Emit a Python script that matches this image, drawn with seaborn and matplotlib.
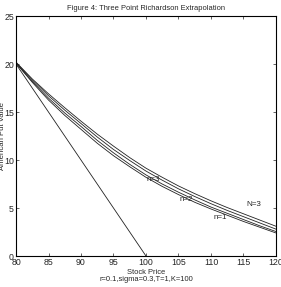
import numpy as np
import pandas as pd
import matplotlib
matplotlib.use("Agg")
import matplotlib.pyplot as plt
import seaborn as sns

# stock prices and estimated put values
stock = [80, 82.5, 85, 87.5, 90, 92.5, 95, 97.5, 100,
         102.5, 105, 107.5, 110, 112.5, 115, 117.5, 120]
put_N3 = [20.2, 18.45, 16.9, 15.45, 14.05, 12.7, 11.45, 10.25, 9.15,
          8.2, 7.3, 6.5, 5.75, 5.05, 4.4, 3.75, 3.1]
put_n3 = [20.15, 18.35, 16.7, 15.2, 13.8, 12.4, 11.1, 9.95, 8.85,
          7.9, 7.0, 6.2, 5.45, 4.75, 4.1, 3.45, 2.8]
put_n2 = [20.1, 18.2, 16.45, 14.9, 13.5, 12.05, 10.75, 9.55, 8.45,
          7.5, 6.65, 5.85, 5.1, 4.45, 3.8, 3.15, 2.55]
put_n1 = [20.1, 18.1, 16.25, 14.65, 13.2, 11.75, 10.45, 9.3, 8.2,
          7.25, 6.4, 5.6, 4.9, 4.25, 3.6, 3.0, 2.4]
payoff_stock = [80, 100]
payoff = [20, 0]

curve_labels = ["n=3", "n=2", "n=1", "N=3"]

sns.set_style("white")
plt.rcParams['font.family'] = ['Liberation Sans', 'DejaVu Sans']

fig = plt.figure(figsize=(2.81, 2.87), dpi=100)
ax = fig.add_axes([0.057, 0.108, 0.925, 0.836])

n = len(stock)
df = pd.DataFrame({"S": stock * 4,
                   "V": put_N3 + put_n3 + put_n2 + put_n1,
                   "curve": ["N3"] * n + ["n3"] * n + ["n2"] * n + ["n1"] * n})
sns.lineplot(data=df, x="S", y="V", units="curve", estimator=None,
             color="#222222", linewidth=0.6, ax=ax)
sns.lineplot(x=payoff_stock, y=payoff, color="#222222", linewidth=0.6, ax=ax)

ax.set_xlim(80, 120)
ax.set_ylim(0, 25)
ax.set_xticks(np.arange(80, 121, 5))
ax.set_yticks(np.arange(0, 26, 5))
ax.tick_params(direction="in", length=2.5, width=0.5, labelsize=6.3, pad=1.5,
               top=True, right=True, bottom=True, left=True)
for s in ax.spines.values():
    s.set_linewidth(0.8)
    s.set_color("black")

ax.set_title("Figure 4: Three Point Richardson Extrapolation", fontsize=5.4, pad=4.5)
ax.set_xlabel("Stock Price\nr=0.1,sigma=0.3,T=1,K=100", fontsize=5.4, labelpad=1.5,
              linespacing=1.0)
ax.set_ylabel("American Put Value", fontsize=5.6, labelpad=-1.5)

# curve labels
ax.text(101.1, 8.0, curve_labels[0], fontsize=5.8, ha="center", va="center")
ax.text(106.2, 5.9, curve_labels[1], fontsize=5.8, ha="center", va="center")
ax.text(111.5, 3.96, curve_labels[2], fontsize=5.8, ha="center", va="center")
ax.text(116.6, 5.4, curve_labels[3], fontsize=5.8, ha="center", va="center")

fig.savefig("out.png", dpi=100)
